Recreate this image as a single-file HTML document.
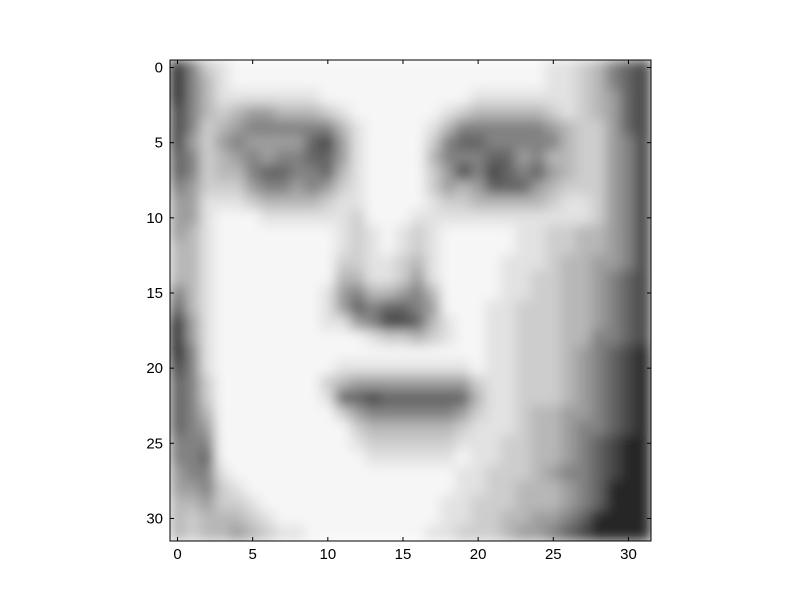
<!DOCTYPE html>
<html><head><meta charset="utf-8"><style>
body{margin:0;background:#fff;width:800px;height:600px;overflow:hidden}
text{font-family:"Liberation Sans",sans-serif;font-size:15px;fill:#000}
</style></head><body>
<svg id="chart" width="800" height="600" xmlns="http://www.w3.org/2000/svg">
<defs>
<clipPath id="clip"><rect x="170" y="60" width="481" height="481"/></clipPath>
<filter id="blur" x="0" y="0" width="1" height="1"><feGaussianBlur stdDeviation="6" edgeMode="duplicate"/></filter>
</defs>
<g clip-path="url(#clip)"><g id="cells" filter="url(#blur)"></g></g>
<rect x="170" y="60" width="481" height="481" fill="none" stroke="#000" stroke-width="1"/>
<g id="ticks"></g>
</svg>
<script>
const pixelRows = [
"14789999999999999999999998876432",
"14689999999999999999999998876432",
"14688888889999999999888888876532",
"24676556667899999987666667876532",
"24765444444689999864444445677532",
"25754555532589999743344444677542",
"34765454433589999644433546677542",
"34766433443689999752423435677542",
"45777544545789999756533356777542",
"55888766667889999877666667887542",
"55899988888879998888888888887542",
"56899999999878987899999887766542",
"66899999999878987899999887766542",
"66899999999778876899998887665542",
"66899999999668875899998877665432",
"46899999998546654699998877665432",
"36899999998534334599988777665432",
"15899999998854223689988777665432",
"15899999999998776789988777664432",
"14899999999999999999988777654321",
"24899999999888888888988777654321",
"34799999997655555555788777654321",
"34799999998332333333688777654321",
"34699999999754444445788766554321",
"34599999999976666667888766544321",
"44499999999987777778887766543211",
"44399999999998888889887766543211",
"54489999999999999998877765443211",
"55478999999999999998877666543111",
"66577899999999999988777666543111",
"67666789999999999988776655431111",
"67665678899999999887776554321111"
];
const grayLevels = [10,40,70,100,130,158,183,205,226,246];
const xTicks = [0,5,10,15,20,25,30];
const yTicks = [0,5,10,15,20,25,30];
const NS="http://www.w3.org/2000/svg";
const x0=170,y0=60,cw=481/32;
const sx=v=>x0+(v+0.5)*cw, sy=v=>y0+(v+0.5)*cw;
const cells=document.getElementById('cells');
pixelRows.forEach((row,r)=>{
  for(let c=0;c<row.length;c++){
    const g=grayLevels[+row[c]];
    const el=document.createElementNS(NS,'rect');
    
    
    el.setAttribute('x',sx(c-0.5)-0.3);el.setAttribute('y',sy(r-0.5)-0.3);
    el.setAttribute('width',cw+0.6);el.setAttribute('height',cw+0.6);
    el.setAttribute('fill',`rgb(${g},${g},${g})`);
    cells.appendChild(el);
  }
});
const tg=document.getElementById('ticks');
function line(x1,y1,x2,y2){const l=document.createElementNS(NS,'line');
 l.setAttribute('x1',x1);l.setAttribute('y1',y1);l.setAttribute('x2',x2);l.setAttribute('y2',y2);
 l.setAttribute('stroke','#000');
 
 
 tg.appendChild(l);}
xTicks.forEach(v=>{const x=sx(v);line(x,541,x,537);line(x,60,x,64);
 const t=document.createElementNS(NS,'text');t.setAttribute('x',x);t.setAttribute('y',559);t.setAttribute('text-anchor','middle');t.textContent=v;
 
 
 tg.appendChild(t);});
yTicks.forEach(v=>{const y=sy(v);line(170,y,174,y);line(651,y,647,y);
 const t=document.createElementNS(NS,'text');t.setAttribute('x',163);t.setAttribute('y',y+5);t.setAttribute('text-anchor','end');t.textContent=v;
 
 
 tg.appendChild(t);});
</script>
</body></html>
